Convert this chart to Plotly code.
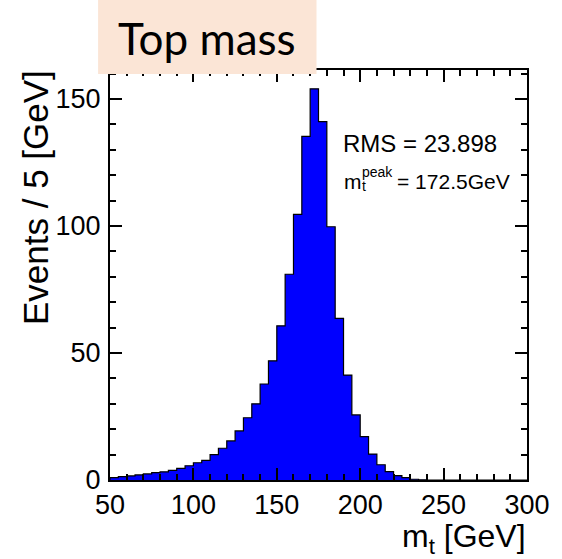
import plotly.graph_objects as go

# Reconstructed top-quark mass spectrum, 5 GeV bins from 50 to 300 GeV
bin_width = 5
bin_edges_low = list(range(50, 300, bin_width))
events = [
    0.9, 1.3, 1.6, 2.0, 2.4, 2.9, 3.2, 3.8, 4.6, 5.6,
    6.8, 7.7, 10.0, 12.5, 15.4, 19.3, 24.5, 30.0, 37.8, 46.9,
    60.7, 81.0, 104.6, 135.3, 154.0, 141.1, 99.7, 63.6, 41.3, 25.6,
    17.1, 10.2, 6.0, 3.3, 1.7, 0.9, 0.3, 0.1, 0.0, 0.0,
    0.0, 0.0, 0.0, 0.0, 0.0, 0.0, 0.0, 0.0, 0.0, 0.0,
]
rms_text = "RMS = 23.898"
peak_text = "= 172.5GeV"
x_ticks = [50, 100, 150, 200, 250, 300]
y_ticks = [0, 50, 100, 150]

W, H = 562, 559
L, R, T, B = 110, 32, 70, 79
PW, PH = W - L - R, H - T - B


def px(x):
    return (x - L) / PW


def py(y):
    return (H - B - y) / PH


# step outline: start at baseline, step through each bin, close on the last edge
step_x = [bin_edges_low[0]] + bin_edges_low + [bin_edges_low[-1] + bin_width]
step_y = [0] + events + [events[-1]]

fig = go.Figure()
fig.add_trace(go.Scatter(
    x=step_x, y=step_y, mode="lines", line=dict(shape="hv", color="black", width=1.2),
    fill="tozeroy", fillcolor="#0000ff", hoverinfo="skip", showlegend=False,
))

axis_font = dict(family="Liberation Sans, Arial, sans-serif", size=27, color="black")
common = dict(
    showline=True, linecolor="black", linewidth=2, mirror="ticks",
    ticks="inside", ticklen=12, tickwidth=1.5, tickcolor="black",
    showgrid=False, zeroline=False, tickfont=axis_font,
    minor=dict(ticks="inside", ticklen=6, tickwidth=1.5, tickcolor="black", dtick=10, showgrid=False),
)
fig.update_xaxes(range=[50, 300], tickvals=x_ticks, ticklabelstandoff=0, **common)
fig.update_yaxes(range=[0, 161.4], tickvals=y_ticks, ticklabelstandoff=2, **common)

text_font = "Liberation Sans, Arial, sans-serif"
annotations = [
    dict(text="Events / 5 [GeV]", textangle=-90, x=px(35), y=py(68), xanchor="center", yanchor="top",
         font=dict(family=text_font, size=35, color="black")),
    dict(text="m<sub>t</sub> [GeV]", x=px(531), y=py(538), xanchor="right", yanchor="middle",
         font=dict(family=text_font, size=32, color="black")),
    dict(text=rms_text, x=px(343), y=py(143), xanchor="left", yanchor="middle",
         font=dict(family=text_font, size=24, color="black")),
    dict(text="m", x=px(344), y=py(181), xanchor="left", yanchor="middle",
         font=dict(family=text_font, size=21, color="black")),
    dict(text="peak", x=px(362), y=py(172), xanchor="left", yanchor="middle",
         font=dict(family=text_font, size=14, color="black")),
    dict(text="t", x=px(362), y=py(186), xanchor="left", yanchor="middle",
         font=dict(family=text_font, size=14, color="black")),
    dict(text=peak_text, x=px(397), y=py(181), xanchor="left", yanchor="middle",
         font=dict(family=text_font, size=21, color="black")),
    dict(text="Top mass", x=px(208), y=py(38), xanchor="center", yanchor="middle",
         font=dict(family="Lato, Open Sans, sans-serif", size=44, color="black")),
]
for a in annotations:
    a.update(xref="paper", yref="paper", showarrow=False)

fig.update_layout(
    width=W, height=H, margin=dict(l=L, r=R, t=T, b=B),
    plot_bgcolor="white", paper_bgcolor="white",
    annotations=annotations,
    shapes=[dict(type="rect", xref="paper", yref="paper", x0=px(98), x1=px(318), y0=py(74), y1=py(0),
                 fillcolor="#fbe5d6", line=dict(width=0), layer="above")],
)

fig.write_html("out.html")
